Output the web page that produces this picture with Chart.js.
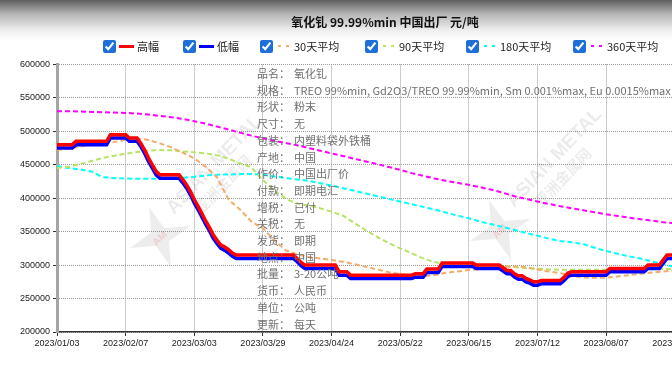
<!DOCTYPE html>
<html><head><meta charset="utf-8">
<script src="https://cdn.jsdelivr.net/npm/chart.js@4.4.0/dist/chart.umd.min.js"></script>
<style>
html,body{margin:0;padding:0;width:672px;height:372px;overflow:hidden;}
body{background:linear-gradient(to bottom,#5e5e5e 0px,#b5b5b5 14px,#eeeeee 30px,#ffffff 40px);font-family:"Noto Sans CJK SC","Liberation Sans",sans-serif;position:relative;}
#wrap{position:absolute;left:0;top:0;width:776px;height:372px;}
#legend{position:absolute;left:0;top:38px;height:16px;width:700px;font-size:11px;color:#222;white-space:nowrap;}
.item{position:absolute;top:0;height:16px;display:flex;align-items:center;cursor:pointer}
.item input{width:13px;height:13px;margin:0 3px 0 0;accent-color:#1f6fd8;}
.sample{width:15px;height:3px;margin-right:3px}
#info{position:absolute;left:257px;top:65px;font-size:11px;color:#707070;line-height:16.7px;white-space:nowrap;pointer-events:none;}
#info span.k{display:inline-block;width:37px}
</style></head>
<body>
<div id="wrap"><canvas id="c" width="776" height="372"></canvas></div>
<div id="legend"></div>
<div id="info"></div>
<script>
// ---------- data ----------
const chartTitle = '氧化钆 99.99%min 中国出厂 元/吨';
const tickLabels = ['2023/01/03','2023/02/07','2023/03/03','2023/03/29','2023/04/24','2023/05/22','2023/06/15','2023/07/12','2023/08/07','2023/08/31'];
const seriesNames = ['高幅','低幅','30天平均','90天平均','180天平均','360天平均'];

// daily prices (one value per trading day)
const highPrice = [
480000,480000,480000,480000,480000,
485000,485000,485000,485000,485000,485000,485000,485000,485000,
495000,495000,495000,495000,495000,
490000,490000,490000,
482000,472000,460000,450000,440000,
435000,435000,435000,435000,435000,435000,
428000,420000,410000,398000,388000,377000,366000,356000,345000,337000,330000,327000,323000,318000,
315000,315000,315000,315000,315000,315000,315000,315000,315000,315000,315000,315000,315000,315000,315000,315000,
310000,304000,
300000,300000,300000,300000,300000,300000,300000,300000,300000,
290000,290000,290000,
285000,285000,285000,285000,285000,285000,285000,285000,285000,285000,285000,285000,285000,285000,285000,285000,285000,
287000,287000,287000,
294000,294000,294000,294000,
303000,303000,303000,303000,303000,303000,303000,303000,303000,
300000,300000,300000,300000,300000,300000,300000,
296000,292000,292000,287000,284000,284000,280000,278000,275000,275000,
277000,277000,277000,277000,277000,277000,
282000,288000,
290000,290000,290000,290000,290000,290000,290000,290000,290000,290000,
295000,295000,295000,295000,295000,295000,295000,295000,295000,295000,
300000,300000,300000,300000,
308000,
315000,315000,315000
];
const lowPrice = [
475000,475000,475000,475000,475000,
480000,480000,480000,480000,480000,480000,480000,480000,480000,
490000,490000,490000,490000,490000,
485000,485000,485000,
477000,467000,455000,445000,435000,
430000,430000,430000,430000,430000,430000,
423000,415000,405000,393000,383000,372000,361000,351000,340000,332000,325000,322000,318000,313000,
310000,310000,310000,310000,310000,310000,310000,310000,310000,310000,310000,310000,310000,310000,310000,310000,
305000,299000,
295000,295000,295000,295000,295000,295000,295000,295000,295000,
285000,285000,285000,
280000,280000,280000,280000,280000,280000,280000,280000,280000,280000,280000,280000,280000,280000,280000,280000,280000,
282000,282000,282000,
289000,289000,289000,289000,
298000,298000,298000,298000,298000,298000,298000,298000,298000,
295000,295000,295000,295000,295000,295000,295000,
291000,287000,287000,282000,279000,279000,275000,273000,270000,270000,
272000,272000,272000,272000,272000,272000,
277000,283000,
285000,285000,285000,285000,285000,285000,285000,285000,285000,285000,
290000,290000,290000,290000,290000,290000,290000,290000,290000,290000,
295000,295000,295000,295000,
303000,
310000,310000,310000
];

// moving averages, read every 3rd trading day
const AVG_EVERY = 3;
const avg30 = [
472000,474000,477000,479500,481500,484000,487500,489500,487000,482000,
476000,468000,459500,447000,431000,398000,383000,365000,355000,337000,
322000,316000,312000,310000,307500,305000,301500,297500,293500,289500,
286500,284500,283500,285000,288500,290500,292500,294000,296000,297500,
298000,297000,293500,290500,288000,284000,281500,281000,281000,283000,
285000,287000,289000,290500,292000
];
const avg90 = [
445000,447000,451000,455500,460000,463500,466500,469000,471000,472000,
471500,470000,468500,467000,464000,459000,452000,446000,427000,412000,
399000,392000,389000,385000,380000,374000,363000,352000,342000,333000,
325000,318000,310000,304500,301000,300000,299500,299000,299000,298500,
297000,295500,294500,293500,293000,293000,293000,293000,293000,293000,
293500,293500,294000,294000,294000
];
const avg180 = [
448000,445000,443000,440000,431500,430000,429500,429000,429000,429000,
429500,430500,432000,434000,435000,435500,436000,436000,435000,432500,
430000,428000,426000,422500,419000,415000,411000,407000,403000,399000,
395000,391000,387000,383000,378500,374000,370000,365000,361000,357000,
352500,348000,344000,339500,336000,334000,331500,326000,321000,317000,
313000,310000,305500,301500,297000
];
const avg360 = [
530000,530000,529500,529000,528500,528000,527500,526500,525000,523000,
521000,518500,515000,511500,507000,502500,498000,493500,489500,486000,
482500,479000,475000,471000,467000,463000,459000,455000,451000,446500,
442500,437500,433500,429500,426000,423000,420000,416500,412500,408000,
403000,399000,395000,391500,388000,385000,382000,379000,376000,373500,
371000,368500,366500,364000,362500
];

const infoRows = [
['品名：','氧化钆'],
['规格：','TREO 99%min, Gd2O3/TREO 99.99%min, Sm 0.001%max, Eu 0.0015%max'],
['形状：','粉末'],['尺寸：','无'],['包装：','内塑料袋外铁桶'],['产地：','中国'],
['作价：','中国出厂价'],['付款：','即期电汇'],['增税：','已付'],['关税：','无'],
['发货：','即期'],['地点：','中国'],['批量：','3-20公吨'],['货币：','人民币'],
['单位：','公吨'],['更新：','每天']
];
const TICK_EVERY = 18;

// ---------- build ----------
const daily = arr => arr.map((v,i)=>({x:i,y:v}));
const sampled = arr => arr.map((v,k)=>({x:k*AVG_EVERY,y:v}));
const colors = ['#ff0000','#0000ff','#f4ac6c','#b4e664','#00ffff','#ff00ff'];
const dashed = [false,false,true,true,true,true];
const legendLeft = [103,183,260,365,466,573];

const ds = [
  {label:seriesNames[0],data:daily(highPrice),borderColor:colors[0],borderWidth:3.5,order:0},
  {label:seriesNames[1],data:daily(lowPrice),borderColor:colors[1],borderWidth:3.5,order:1},
  {label:seriesNames[2],data:sampled(avg30),borderColor:colors[2],borderWidth:2,borderDash:[5,3],order:2},
  {label:seriesNames[3],data:sampled(avg90),borderColor:colors[3],borderWidth:2,borderDash:[5,3],order:3},
  {label:seriesNames[4],data:sampled(avg180),borderColor:colors[4],borderWidth:2,borderDash:[5,3],order:4},
  {label:seriesNames[5],data:sampled(avg360),borderColor:colors[5],borderWidth:2,borderDash:[5,3],order:5}
].map(d=>Object.assign(d,{pointRadius:0,tension:0,fill:false}));

const watermark = {
  id:'wm',
  beforeDatasetsDraw(chart){
    const ctx = chart.ctx;
    [[160,237],[500,230]].forEach(([cx,cy])=>{
      ctx.save();
      ctx.translate(cx,cy);
      ctx.fillStyle='rgba(0,0,0,0.07)';
      ctx.beginPath();
      for(let k=0;k<8;k++){const r=k%2?10:32;const a=-Math.PI/2+k*Math.PI/4-0.35;ctx.lineTo(r*Math.cos(a),r*Math.sin(a));}
      ctx.closePath();ctx.fill();
      ctx.rotate(-0.8);
      ctx.fillStyle='rgba(220,40,40,0.16)';
      ctx.font='bold 10px "Liberation Sans"';
      ctx.fillText('AM',-9,4);
      ctx.restore();
      ctx.save();
      ctx.translate(cx+14,cy-22);
      ctx.rotate(-0.81);
      ctx.fillStyle='rgba(0,0,0,0.08)';
      ctx.font='bold 19px "Liberation Sans"';
      ctx.fillText('ASIAN METAL',0,0);
      ctx.font='bold 15px "Noto Sans CJK SC"';
      ctx.fillText('亚洲金属网',18,20);
      ctx.restore();
    });
  }
};

const gridCol = '#9a9a9a';
const chart = new Chart(document.getElementById('c'),{
  type:'line',
  data:{datasets:ds},
  plugins:[watermark],
  options:{
    responsive:false,animation:false,
    layout:{padding:{left:0,right:6,top:0,bottom:0}},
    plugins:{
      legend:{display:false},tooltip:{enabled:false},
      title:{display:true,text:chartTitle,color:'#111',
        font:{family:'"Noto Sans CJK SC"',size:12,weight:'bold',lineHeight:1.2},
        padding:{top:15,bottom:35}}
    },
    scales:{
      x:{type:'linear',min:0,max:187,
        ticks:{stepSize:TICK_EVERY,includeBounds:false,autoSkip:false,maxRotation:0,padding:2,color:'#222',
          font:{family:'"Liberation Sans"',size:9},
          callback:v=>Number.isInteger(v/TICK_EVERY)?(tickLabels[v/TICK_EVERY]||''):''},
        grid:{color:gridCol,lineWidth:1,tickLength:4,tickColor:'#333',drawTicks:true},
        border:{display:true,color:'#333',width:1.5,dash:[1,1]},
        afterFit(s){s.height=40;}
      },
      y:{min:200000,max:600000,
        ticks:{stepSize:50000,padding:3,color:'#222',font:{family:'"Liberation Sans"',size:9},
          callback:v=>String(v)},
        grid:{color:gridCol,lineWidth:1,tickLength:4,tickColor:'#333',drawTicks:true},
        border:{display:true,color:'#a5a5a5',width:3,dash:[1,1]},
        afterFit(s){s.width=57;}
      }
    }
  }
});

// legend (html, toggles datasets)
const lg = document.getElementById('legend');
seriesNames.forEach((name,i)=>{
  const lab = document.createElement('label'); lab.className='item';
  lab.style.left = legendLeft[i]+'px';
  const cb = document.createElement('input'); cb.type='checkbox'; cb.checked=true;
  cb.addEventListener('change',()=>{chart.setDatasetVisibility(i,cb.checked);chart.update();});
  const s = document.createElement('span'); s.className='sample';
  s.style.background = dashed[i]
    ? `repeating-linear-gradient(90deg, transparent 0 2px, ${colors[i]} 2px 5px, transparent 5px 8px)`
    : colors[i];
  if(dashed[i]) s.style.height='2px';
  const t = document.createElement('span'); t.textContent=name;
  lab.append(cb,s,t); lg.appendChild(lab);
});
// info overlay
const inf = document.getElementById('info');
infoRows.forEach(([k,v])=>{
  const d=document.createElement('div');
  d.innerHTML=`<span class="k"></span><span class="v"></span>`;
  d.children[0].textContent=k; d.children[1].textContent=v;
  inf.appendChild(d);
});
</script>
</body></html>
